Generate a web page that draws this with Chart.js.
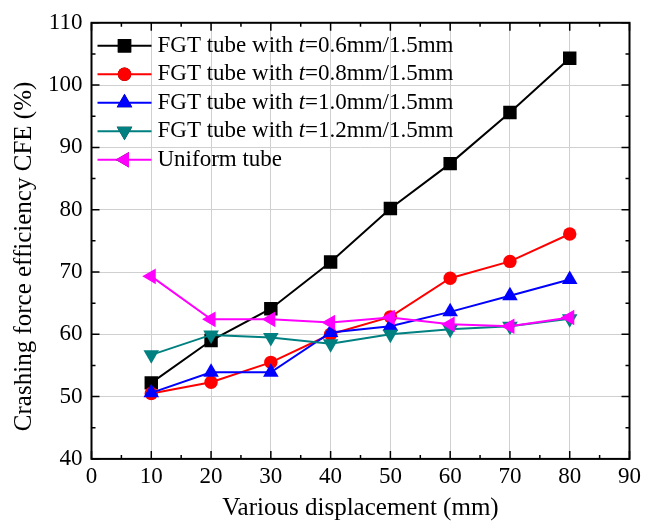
<!DOCTYPE html>
<html>
<head>
<meta charset="utf-8">
<script src="https://cdn.jsdelivr.net/npm/chart.js@4"></script>
<style>
  body { margin: 0; background: #fff; }
  #wrap { width: 645px; height: 522px; }
</style>
</head>
<body>
<div id="wrap"><canvas id="cfe"></canvas></div>
<script>
// displacement (mm) and CFE (%)
const displacement = [10, 20, 30, 40, 50, 60, 70, 80];
const fgt06 = [52.2, 59.0, 64.1, 71.6, 80.2, 87.4, 95.6, 104.3];
const fgt08 = [50.5, 52.3, 55.5, 60.0, 62.8, 69.0, 71.7, 76.1];
const fgt10 = [50.6, 53.9, 53.9, 60.3, 61.3, 63.6, 66.2, 68.8];
const fgt12 = [56.7, 59.9, 59.5, 58.5, 60.0, 60.8, 61.3, 62.5];
const uniform = [69.3, 62.4, 62.4, 61.9, 62.7, 61.6, 61.3, 62.7];

const labels = ['FGT tube with t=0.6mm/1.5mm', 'FGT tube with t=0.8mm/1.5mm',
  'FGT tube with t=1.0mm/1.5mm', 'FGT tube with t=1.2mm/1.5mm', 'Uniform tube'];
const yTitle = 'Crashing force efficiency CFE (%)';

const FONT = '"Liberation Serif", "Times New Roman", serif';

function pts(vals) {
  return displacement.map((x, i) => ({ x: x, y: vals[i] }));
}

const styles = [
  { color: '#000000', style: 'rect', radius: 9.5, rotation: 0 },
  { color: '#ff0000', style: 'circle', radius: 6.7, rotation: 0 },
  { color: '#0000ff', style: 'triangle', radius: 9, rotation: 0 },
  { color: '#008080', style: 'triangle', radius: 9, rotation: 180 },
  { color: '#ff00ff', style: 'triangle', radius: 9, rotation: 270 }
];
const series = [fgt06, fgt08, fgt10, fgt12, uniform];

const datasets = series.map((vals, i) => ({
  label: labels[i],
  data: pts(vals),
  borderColor: styles[i].color,
  backgroundColor: styles[i].color,
  borderWidth: 2,
  pointStyle: styles[i].style,
  pointRadius: styles[i].radius,
  pointHoverRadius: styles[i].radius,
  pointRotation: styles[i].rotation,
  pointBorderWidth: 0,
  order: 5 - i
}));

// frame with inward major/minor ticks, y title, plus in-plot legend
const framePlugin = {
  id: 'frame',
  afterDraw(chart) {
    const { ctx, chartArea: a, scales } = chart;
    ctx.save();
    ctx.strokeStyle = '#000';
    ctx.lineWidth = 2;
    ctx.strokeRect(a.left, a.top, a.right - a.left, a.bottom - a.top);
    ctx.lineWidth = 1.5;
    ctx.beginPath();
    for (let v = 0; v <= 90; v += 5) {
      const x = scales.x.getPixelForValue(v);
      const len = v % 10 === 0 ? 8 : 4;
      ctx.moveTo(x, a.bottom); ctx.lineTo(x, a.bottom - len);
      ctx.moveTo(x, a.top); ctx.lineTo(x, a.top + len);
    }
    for (let v = 40; v <= 110; v += 5) {
      const y = scales.y.getPixelForValue(v);
      const len = v % 10 === 0 ? 8 : 4;
      ctx.moveTo(a.left, y); ctx.lineTo(a.left + len, y);
      ctx.moveTo(a.right, y); ctx.lineTo(a.right - len, y);
    }
    ctx.stroke();

    // y axis title, sitting a bit below the plot centre as in the original
    ctx.save();
    ctx.translate(24, scales.y.getPixelForValue(72.5));
    ctx.rotate(-Math.PI / 2);
    ctx.font = '25px ' + FONT;
    ctx.fillStyle = '#000';
    ctx.textAlign = 'center';
    ctx.textBaseline = 'middle';
    ctx.fillText(yTitle, 0, 0);
    ctx.restore();

    // legend
    const x0 = a.left + 6, y0 = a.top + 23, rowH = 28.5;
    chart.data.datasets.forEach((ds, i) => {
      const y = y0 + i * rowH;
      ctx.strokeStyle = ds.borderColor;
      ctx.lineWidth = 2;
      ctx.beginPath();
      ctx.moveTo(x0, y); ctx.lineTo(x0 + 54, y);
      ctx.stroke();
      Chart.helpers.drawPoint(ctx, {
        pointStyle: ds.pointStyle, rotation: ds.pointRotation,
        radius: ds.pointRadius, borderWidth: 0
      }, x0 + 27, y);
      ctx.fillStyle = ds.backgroundColor;
      ctx.fill();
      ctx.fillStyle = '#000';
      ctx.textBaseline = 'middle';
      ctx.textAlign = 'left';
      let tx = x0 + 60;
      const txt = ds.label;
      const k = txt.indexOf('t=');
      ctx.font = '23px ' + FONT;
      if (k < 0) {
        ctx.fillText(txt, tx, y);
      } else {
        const before = txt.slice(0, k), after = txt.slice(k + 1);
        ctx.fillText(before, tx, y);
        tx += ctx.measureText(before).width;
        ctx.font = 'italic 23px ' + FONT;
        ctx.fillText('t', tx, y);
        tx += ctx.measureText('t').width;
        ctx.font = '23px ' + FONT;
        ctx.fillText(after, tx, y);
      }
    });
    ctx.restore();
  }
};

new Chart(document.getElementById('cfe'), {
  type: 'line',
  data: { datasets: datasets },
  options: {
    responsive: true,
    maintainAspectRatio: false,
    animation: false,
    layout: { padding: { top: 16, right: 6, left: 39, bottom: 0 } },
    plugins: { legend: { display: false }, tooltip: { enabled: false } },
    scales: {
      x: {
        type: 'linear', min: 0, max: 90,
        ticks: { stepSize: 10, color: '#000', font: { family: FONT, size: 23 }, padding: 4 },
        grid: { color: '#d0d0d0', lineWidth: 1, drawTicks: false },
        border: { display: false },
        title: { display: true, text: 'Various displacement (mm)', color: '#000',
          font: { family: FONT, size: 25, lineHeight: 1.1 }, padding: { top: 0, bottom: 0 } }
      },
      y: {
        type: 'linear', min: 40, max: 110,
        ticks: { stepSize: 10, color: '#000', font: { family: FONT, size: 23 }, padding: 9 },
        grid: { color: '#d0d0d0', lineWidth: 1, drawTicks: false },
        border: { display: false }
      }
    }
  },
  plugins: [framePlugin]
});
</script>
</body>
</html>
